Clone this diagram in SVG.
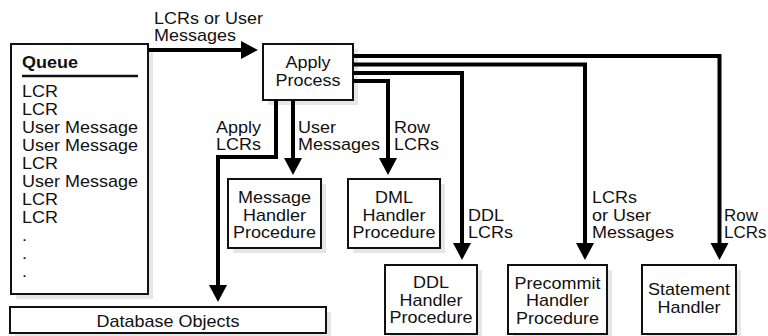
<svg xmlns="http://www.w3.org/2000/svg" width="768" height="336" viewBox="0 0 768 336">
<style>
text{font-family:"Liberation Sans",Arial,Helvetica,sans-serif;font-size:16px;fill:#111}
.b{font-weight:bold}
.m{text-anchor:middle}
.box{fill:#fff;stroke:#111;stroke-width:2}
.sh{fill:#e6e6e6}
.c{fill:none;stroke:#000;stroke-width:4;stroke-linejoin:miter}
</style>
<defs>
<marker id="ah" markerUnits="userSpaceOnUse" markerWidth="18" markerHeight="18" refX="7" refY="9" orient="auto" overflow="visible"><path d="M0,0 L17,9 L0,18 z" fill="#000"/></marker>
</defs>
<rect width="768" height="336" fill="#fff"/>

<g id="queue">
<rect class="sh" x="16" y="49" width="137" height="250"/>
<rect class="box" x="11" y="44" width="137" height="250"/>
<text class="b" transform="translate(22 0) scale(1.125 1)" x="0" y="68">Queue</text>
<line x1="22" y1="76" x2="138" y2="76" stroke="#111" stroke-width="2.5"/>
<text transform="translate(22 0) scale(1.125 1)">
<tspan x="0" y="97">LCR</tspan><tspan x="0" y="115">LCR</tspan><tspan x="0" y="133">User Message</tspan><tspan x="0" y="151">User Message</tspan><tspan x="0" y="169">LCR</tspan><tspan x="0" y="187">User Message</tspan><tspan x="0" y="205">LCR</tspan><tspan x="0" y="223">LCR</tspan><tspan x="0" y="241">.</tspan><tspan x="0" y="259">.</tspan><tspan x="0" y="277">.</tspan>
</text>
</g>

<g id="apply-process">
<rect class="sh" x="268" y="49" width="90" height="56"/>
<rect class="box" x="263" y="44" width="90" height="56"/>
<text class="m" transform="translate(308 0) scale(1.125 1)"><tspan x="0" y="68">Apply</tspan><tspan x="0" y="86">Process</tspan></text>
</g>

<g id="database-objects">
<rect class="sh" x="15" y="312" width="316" height="26"/>
<rect class="box" x="10" y="307" width="316" height="26"/>
<text class="m" transform="translate(168 0) scale(1.125 1)" x="0" y="327">Database Objects</text>
</g>

<g id="message-handler">
<rect class="sh" x="233" y="184" width="93" height="69"/>
<rect class="box" x="228" y="179" width="93" height="69"/>
<text class="m" transform="translate(274.5 0) scale(1.125 1)"><tspan x="0" y="203.5">Message</tspan><tspan x="0" y="221">Handler</tspan><tspan x="0" y="238.5">Procedure</tspan></text>
</g>

<g id="dml-handler">
<rect class="sh" x="353" y="184" width="92" height="69"/>
<rect class="box" x="348" y="179" width="92" height="69"/>
<text class="m" transform="translate(394 0) scale(1.125 1)"><tspan x="0" y="203.5">DML</tspan><tspan x="0" y="221">Handler</tspan><tspan x="0" y="238.5">Procedure</tspan></text>
</g>

<g id="ddl-handler">
<rect class="sh" x="390" y="270" width="92" height="69"/>
<rect class="box" x="385" y="265" width="92" height="69"/>
<text class="m" transform="translate(431 0) scale(1.125 1)"><tspan x="0" y="288.5">DDL</tspan><tspan x="0" y="306">Handler</tspan><tspan x="0" y="323.5">Procedure</tspan></text>
</g>

<g id="precommit-handler">
<rect class="sh" x="513" y="270" width="99" height="69"/>
<rect class="box" x="508" y="265" width="99" height="69"/>
<text class="m" transform="translate(557.5 0) scale(1.125 1)"><tspan x="0" y="289">Precommit</tspan><tspan x="0" y="306.5">Handler</tspan><tspan x="0" y="324">Procedure</tspan></text>
</g>

<g id="statement-handler">
<rect class="sh" x="647" y="270" width="94" height="69"/>
<rect class="box" x="642" y="265" width="94" height="69"/>
<text class="m" transform="translate(689 0) scale(1.125 1)"><tspan x="0" y="295">Statement</tspan><tspan x="0" y="313">Handler</tspan></text>
</g>

<g id="connectors">
<path class="c" d="M148,50 H248" marker-end="url(#ah)"/>
<path class="c" d="M276,100 V157 H218 V292" marker-end="url(#ah)"/>
<path class="c" d="M293,100 V165" marker-end="url(#ah)"/>
<path class="c" d="M353,81 H388 V165" marker-end="url(#ah)"/>
<path class="c" d="M353,73 H462 V250" marker-end="url(#ah)"/>
<path class="c" d="M353,64.5 H585 V250" marker-end="url(#ah)"/>
<path class="c" d="M353,56 H719.5 V250" marker-end="url(#ah)"/>
<text transform="translate(154 0) scale(1.125 1)"><tspan x="0" y="24">LCRs or User</tspan><tspan x="0" y="41">Messages</tspan></text>
<text transform="translate(216 0) scale(1.125 1)"><tspan x="0" y="133">Apply</tspan><tspan x="0" y="150.5">LCRs</tspan></text>
<text transform="translate(298 0) scale(1.125 1)"><tspan x="0" y="133">User</tspan><tspan x="0" y="150.5">Messages</tspan></text>
<text transform="translate(394 0) scale(1.125 1)"><tspan x="0" y="133">Row</tspan><tspan x="0" y="150.5">LCRs</tspan></text>
<text transform="translate(468 0) scale(1.125 1)"><tspan x="0" y="221">DDL</tspan><tspan x="0" y="238.5">LCRs</tspan></text>
<text transform="translate(592 0) scale(1.125 1)"><tspan x="0" y="203.5">LCRs</tspan><tspan x="0" y="221">or User</tspan><tspan x="0" y="238.5">Messages</tspan></text>
<text transform="translate(724 0) scale(1.06 1)"><tspan x="0" y="221">Row</tspan><tspan x="0" y="238.5">LCRs</tspan></text>
</g>
</svg>
